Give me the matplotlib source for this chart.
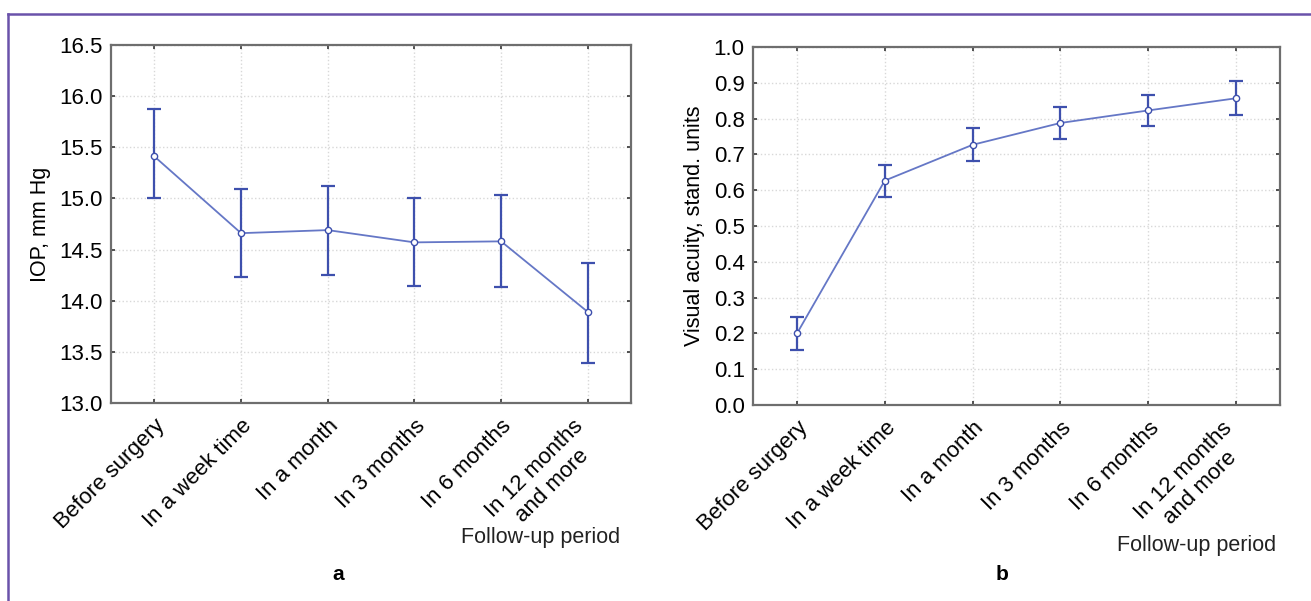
import matplotlib.pyplot as plt
from matplotlib.lines import Line2D
from matplotlib.transforms import ScaledTranslation

plt.rcParams['font.family'] = ['Liberation Sans', 'DejaVu Sans']

# Follow-up periods (shared by both panels)
periods = ["Before surgery", "In a week time", "In a month", "In 3 months",
           "In 6 months", "In 12 months\nand more"]

# Panel a: intraocular pressure, mm Hg
iop_mean = [15.41, 14.66, 14.69, 14.57, 14.58, 13.89]
iop_low = [15.00, 14.23, 14.25, 14.14, 14.13, 13.39]
iop_high = [15.87, 15.09, 15.12, 15.00, 15.03, 14.37]

# Panel b: visual acuity, stand. units
va_mean = [0.200, 0.627, 0.727, 0.788, 0.823, 0.857]
va_low = [0.155, 0.582, 0.681, 0.742, 0.779, 0.810]
va_high = [0.245, 0.671, 0.774, 0.832, 0.865, 0.906]

line_color = '#6577c6'
err_color = '#3e50ad'

fig = plt.figure(figsize=(13.11, 6.01), dpi=100)
ax1 = fig.add_axes([0.0847, 0.3295, 0.3967, 0.5957])
ax2 = fig.add_axes([0.5744, 0.326, 0.402, 0.5957])


def draw_panel(ax, mean, low, high, ylim, yticks, yfmt, ylabel):
    x = list(range(len(periods)))
    yerr = [[m - l for m, l in zip(mean, low)], [h - m for m, h in zip(mean, high)]]
    ax.errorbar(x, mean, yerr=yerr, fmt='none', ecolor=err_color, elinewidth=1.6,
                capsize=5, capthick=1.6, zorder=3)
    ax.plot(x, mean, color=line_color, lw=1.3, marker='o', ms=4.5,
            mfc='white', mec=err_color, mew=1.0, zorder=4)
    ax.set_xlim(-0.5, len(periods) - 0.5)
    ax.set_ylim(*ylim)
    ax.set_yticks(yticks)
    ax.set_yticklabels([yfmt.format(v) for v in yticks])
    ax.set_xticks(x)
    # last, two-line label is drawn separately: it sits a bit left of its tick
    ax.set_xticklabels(periods[:-1] + [''], rotation=45, ha='right',
                       rotation_mode='anchor')
    shift = ScaledTranslation(-0.15, -0.125, fig.dpi_scale_trans)
    ax.text(x[-1], 0, periods[-1], transform=ax.get_xaxis_transform() + shift,
            rotation=45, ha='right', va='top', rotation_mode='anchor',
            multialignment='center', fontsize=16)
    ax.tick_params(direction='in', length=3, width=1.2, color='#333333',
                   labelsize=16, pad=6, top=True, right=True)
    ax.tick_params(axis='x', pad=9)
    ax.grid(True, color='#d8d8d8', linestyle=':', linewidth=1.0)
    for s in ax.spines.values():
        s.set_color('#6e6e6e')
        s.set_linewidth(1.6)
    ax.set_ylabel(ylabel, fontsize=15.5, labelpad=6)


draw_panel(ax1, iop_mean, iop_low, iop_high, (13.0, 16.5),
           [13.0, 13.5, 14.0, 14.5, 15.0, 15.5, 16.0, 16.5], '{:.1f}', 'IOP, mm Hg')
draw_panel(ax2, va_mean, va_low, va_high, (0.0, 1.0),
           [i / 10 for i in range(11)], '{:.1f}', 'Visual acuity, stand. units')

# axis titles and panel letters
fig.text(541 / 1311, 1 - 538 / 601, 'Follow-up period', fontsize=15.5,
         ha='center', va='center', color='#222222')
fig.text(1197 / 1311, 1 - 546 / 601, 'Follow-up period', fontsize=15.5,
         ha='center', va='center', color='#222222')
fig.text(338 / 1311, 1 - 575 / 601, 'a', fontsize=15, fontweight='bold',
         ha='center', va='center')
fig.text(1002 / 1311, 1 - 575 / 601, 'b', fontsize=15, fontweight='bold',
         ha='center', va='center')

# purple frame (top and left edges)
frame_color = '#6a52aa'
fig.add_artist(Line2D([8 / 1311, 1], [1 - 14 / 601, 1 - 14 / 601],
                      color=frame_color, lw=1.8, transform=fig.transFigure))
fig.add_artist(Line2D([8 / 1311, 8 / 1311], [0, 1 - 14 / 601],
                      color=frame_color, lw=1.8, transform=fig.transFigure))

fig.savefig('out.png', dpi=100)
